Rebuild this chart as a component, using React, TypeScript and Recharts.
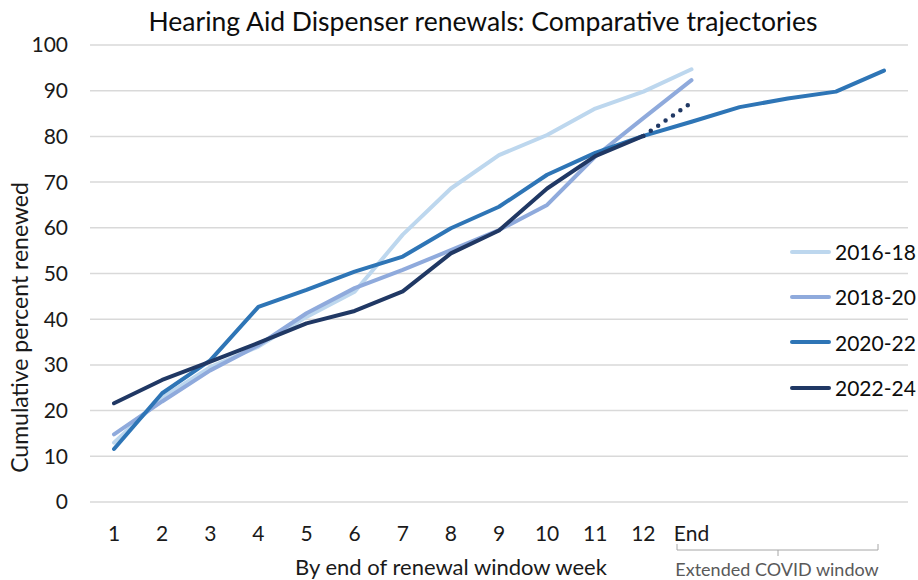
import { LineChart, Line, XAxis, YAxis, CartesianGrid, Label } from "recharts";

const weeks = ["1", "2", "3", "4", "5", "6", "7", "8", "9", "10", "11", "12", "End", "x1", "x2", "x3", "x4"];
const yTicks = [0, 10, 20, 30, 40, 50, 60, 70, 80, 90, 100];

// cumulative percent renewed by end of each week
const r1618 = [13, 22.8, 29.5, 34, 40.5, 46, 58.5, 68.6, 75.9, 80.3, 86.1, 89.8, 94.7];
const r1820 = [14.8, 22, 28.8, 34.3, 41.3, 46.8, 50.8, 55.1, 59.5, 65, 75.6, 84, 92.3];
const r2022 = [11.6, 23.8, 31, 42.7, 46.4, 50.4, 53.7, 59.9, 64.6, 71.6, 76.4, 80.1, 83.2, 86.4, 88.3, 89.8, 94.4];
const r2224 = [21.6, 26.7, 30.7, 34.8, 39.1, 41.8, 46.1, 54.4, 59.4, 68.6, 75.7, 80.1];
// projected end of window for 2022-24 (dotted)
const r2224proj: (number | null)[] = [null, null, null, null, null, null, null, null, null, null, null, 80.1, 87.4];

const series = [
  { key: "s1618", name: "2016-18", color: "#BDD7EE" },
  { key: "s1820", name: "2018-20", color: "#8FAADC" },
  { key: "s2022", name: "2020-22", color: "#2E75B6" },
  { key: "s2224", name: "2022-24", color: "#203864" },
];

const data = weeks.map((w, i) => ({
  week: w,
  s1618: r1618[i] ?? null,
  s1820: r1820[i] ?? null,
  s2022: r2022[i] ?? null,
  s2224: r2224[i] ?? null,
  proj: r2224proj[i] ?? null,
}));

const FONT = "Lato, 'Open Sans', sans-serif";

export default function App() {
  return (
    <div style={{ position: "absolute", left: 0, top: 0, width: 918, height: 580, background: "#fff", fontFamily: FONT }}>
      <LineChart width={918} height={580} data={data} margin={{ top: 45, right: 10, left: 0, bottom: 0 }}>
        <CartesianGrid vertical={false} stroke="#D9D9D9" strokeWidth={1.5} />
        <XAxis
          dataKey="week"
          height={78}
          axisLine={false}
          tickLine={false}
          tickSize={0}
          tickMargin={24}
          interval={0}
          padding={{ left: 24, right: 24 }}
          tickFormatter={(v) => (String(v).startsWith("x") ? "" : v)}
          tick={{ fontSize: 21, fill: "#1a1a1a", fontFamily: FONT }}
        >
          <Label
            value="By end of renewal window week"
            position="insideBottom"
            offset={5}
            dx={-48}
            style={{ fontSize: 22, fill: "#1a1a1a", fontFamily: FONT }}
          />
        </XAxis>
        <YAxis
          width={90}
          domain={[0, 100]}
          ticks={yTicks}
          axisLine={false}
          tickLine={false}
          tickSize={0}
          tickMargin={22}
          tick={{ fontSize: 21, fill: "#1a1a1a", fontFamily: FONT }}
        >
          <Label
            value="Cumulative percent renewed"
            angle={-90}
            position="insideLeft"
            offset={20}
            dy={54}
            style={{ fontSize: 23, fill: "#1a1a1a", fontFamily: FONT, textAnchor: "middle" }}
          />
        </YAxis>
        {series.map((s) => (
          <Line
            key={s.key}
            dataKey={s.key}
            name={s.name}
            stroke={s.color}
            strokeWidth={4}
            strokeLinecap="round"
            strokeLinejoin="round"
            dot={false}
            activeDot={false}
            isAnimationActive={false}
          />
        ))}
        <Line
          dataKey="proj"
          stroke="#203864"
          strokeWidth={4.5}
          strokeLinecap="round"
          strokeDasharray="0 9"
          dot={false}
          activeDot={false}
          legendType="none"
          isAnimationActive={false}
        />
      </LineChart>

      <div
        style={{
          position: "absolute",
          left: 0,
          top: 5,
          width: 966,
          textAlign: "center",
          fontSize: 26.5,
          color: "#0d0d0d",
        }}
      >
        Hearing Aid Dispenser renewals: Comparative trajectories
      </div>

      <div style={{ position: "absolute", left: 790, top: 229 }}>
        {series.map((s) => (
          <div key={s.key} style={{ display: "flex", alignItems: "center", height: 45.3 }}>
            <div style={{ width: 41, height: 4, borderRadius: 2, background: s.color, marginRight: 4 }} />
            <span style={{ fontSize: 21, color: "#0d0d0d" }}>{s.name}</span>
          </div>
        ))}
      </div>

      <svg style={{ position: "absolute", left: 0, top: 0 }} width={918} height={580}>
        <path d="M677 544 V550 H878 V544 M778 550 V556" fill="none" stroke="#A6A6A6" strokeWidth={1} />
        <text x={777} y={576} textAnchor="middle" fontSize={18} fill="#595959" fontFamily={FONT}>
          Extended COVID window
        </text>
      </svg>
    </div>
  );
}
